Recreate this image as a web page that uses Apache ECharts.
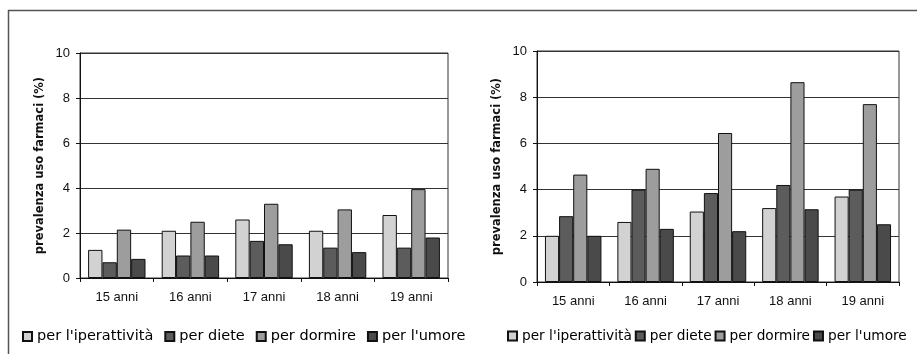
<!DOCTYPE html>
<html>
<head>
<meta charset="utf-8">
<script src="https://cdn.jsdelivr.net/npm/echarts@6/dist/echarts.min.js"></script>
<style>html,body{margin:0;padding:0;background:#fff}#c{width:917px;height:354px}</style>
</head>
<body>
<div id="c"></div>
<script>
var categories = ['15 anni', '16 anni', '17 anni', '18 anni', '19 anni'];
var seriesNames = ["per l'iperattività", 'per diete', 'per dormire', "per l'umore"];
var yTicks = [0, 2, 4, 6, 8, 10];
var colors = ['#d2d2d2', '#5c5c5c', '#9d9d9d', '#4a4a4a'];

// left chart
var leftIperattivita = [1.25, 2.1, 2.6, 2.1, 2.8];
var leftDiete = [0.7, 1.0, 1.65, 1.35, 1.35];
var leftDormire = [2.15, 2.5, 3.3, 3.05, 3.95];
var leftUmore = [0.85, 1.0, 1.5, 1.15, 1.8];

// right chart
var rightIperattivita = [2.0, 2.6, 3.05, 3.2, 3.7];
var rightDiete = [2.85, 4.0, 3.85, 4.2, 4.0];
var rightDormire = [4.65, 4.9, 6.45, 8.65, 7.7];
var rightUmore = [2.0, 2.3, 2.2, 3.15, 2.5];

var font = 'Liberation Sans, Arial, sans-serif';
var wideFont = 'DejaVu Sans, sans-serif';
var leftData = [leftIperattivita, leftDiete, leftDormire, leftUmore];
var rightData = [rightIperattivita, rightDiete, rightDormire, rightUmore];

function xAxisCfg(gi) {
  return {
    type: 'category', gridIndex: gi, data: categories,
    axisLine: {lineStyle: {color: '#111', width: 1}},
    axisTick: {show: true, length: 4, lineStyle: {color: '#111'}},
    axisLabel: {fontSize: 13, color: '#111', margin: 13, fontFamily: font}
  };
}
function yAxisCfg(gi) {
  return {
    type: 'value', gridIndex: gi, min: yTicks[0], max: yTicks[yTicks.length - 1], interval: 2,
    name: 'prevalenza uso farmaci (%)', nameLocation: 'middle', nameGap: 34,
    nameTextStyle: {fontSize: 11.5, fontWeight: 'bold', color: '#111', fontFamily: wideFont},
    axisLine: {show: true, lineStyle: {color: '#111', width: 1}},
    axisTick: {show: true, length: 4, lineStyle: {color: '#111'}},
    axisLabel: {fontSize: 13, color: '#111', margin: 10, fontFamily: font},
    splitLine: {show: true, lineStyle: {color: '#333', width: 1}}
  };
}
var series = [];
[leftData, rightData].forEach(function (set, gi) {
  set.forEach(function (vals, si) {
    series.push({
      type: 'bar', name: seriesNames[si], xAxisIndex: gi, yAxisIndex: gi,
      data: vals, barGap: '0%', barCategoryGap: '22%',
      itemStyle: {color: colors[si], borderColor: '#111', borderWidth: 1},
      emphasis: {disabled: true}
    });
  });
});

var chart = echarts.init(document.getElementById('c'), null, {renderer: 'canvas'});
chart.setOption({
  animation: false,
  backgroundColor: '#fff',
  grid: [
    {left: 80, top: 53, right: 469, bottom: 76, show: true, borderColor: '#333', borderWidth: 1},
    {left: 537, top: 51, right: 18, bottom: 72, show: true, borderColor: '#333', borderWidth: 1}
  ],
  xAxis: [xAxisCfg(0), xAxisCfg(1)],
  yAxis: [yAxisCfg(0), yAxisCfg(1)],
  legend: [
    {left: 17, top: 324, itemWidth: 9, itemHeight: 9, itemGap: 11, icon: 'rect',
     data: seriesNames, textStyle: {fontSize: 14.5, color: '#000', fontFamily: wideFont},
     selectedMode: false},
    {left: 507, top: 329, width: 420, padding: 0, itemWidth: 9, itemHeight: 9, itemGap: 3, icon: 'rect',
     data: seriesNames, textStyle: {fontSize: 13.7, color: '#000', fontFamily: wideFont},
     selectedMode: false}
  ],
  graphic: [
    {type: 'line', shape: {x1: 8.5, y1: 10, x2: 8.5, y2: 354}, style: {stroke: '#555', lineWidth: 1.5}},
    {type: 'line', shape: {x1: 8, y1: 10.5, x2: 917, y2: 10.5}, style: {stroke: '#555', lineWidth: 1.5}}
  ],
  series: series
});
</script>
</body>
</html>
